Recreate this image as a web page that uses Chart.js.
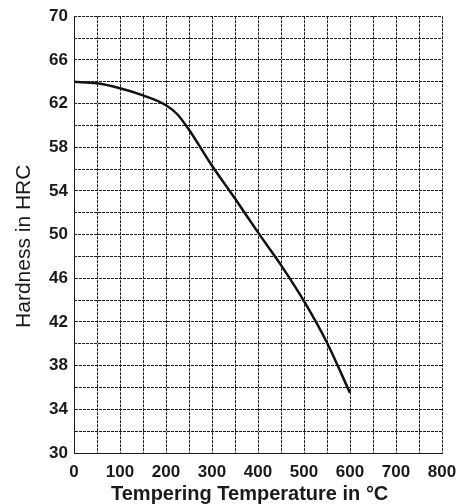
<!DOCTYPE html>
<html>
<head>
<meta charset="utf-8">
<script src="https://cdn.jsdelivr.net/npm/chart.js@4"></script>
<style>
  html,body{margin:0;padding:0;background:#fff;}
  #wrap{width:461px;height:504px;position:relative;}
</style>
</head>
<body>
<div id="wrap"><canvas id="c" width="461" height="504"></canvas></div>
<script>
const temperatures = [0, 50, 100, 150, 200, 225, 250, 300, 350, 400, 450, 500, 550, 600];
const hardness = [64, 63.85, 63.4, 62.75, 61.85, 61.0, 59.6, 56.3, 53.3, 50.2, 47.2, 43.9, 40.1, 35.5];
const xTickLabels = [0, 100, 200, 300, 400, 500, 600, 700, 800];
const yTickLabels = [30, 34, 38, 42, 46, 50, 54, 58, 62, 66, 70];
const solidHLines = [64, 58, 54, 46, 42, 38, 36, 34, 32];

const points = temperatures.map((t, i) => ({x: t, y: hardness[i]}));
const gridDark = '#1e1e1e';
const NB = '\u00a0';

new Chart(document.getElementById('c'), {
  type: 'line',
  data: {
    datasets: [{
      data: points,
      borderColor: '#111',
      borderWidth: 2.5,
      pointRadius: 0,
      fill: false,
      cubicInterpolationMode: 'monotone',
      yAxisID: 'y'
    }]
  },
  options: {
    responsive: false,
    animation: false,
    layout: {padding: {left: 0, right: 19, top: 13, bottom: 0}},
    plugins: {legend: {display: false}, tooltip: {enabled: false}},
    scales: {
      x: {
        type: 'linear', min: 0, max: 800,
        afterFit: s => { s.height = 51; s.paddingRight = 0; s.paddingLeft = 0; },
        ticks: {
          stepSize: 50, autoSkip: false, maxRotation: 0, padding: 9,
          color: '#1a1a1a',
          font: {family: 'Liberation Sans, Arial, sans-serif', size: 17, weight: 'bold'},
          callback: v => xTickLabels.includes(v) ? String(v) : ''
        },
        grid: {color: gridDark, lineWidth: 1, drawTicks: false},
        border: {display: true, color: gridDark, dash: [3, 1]},
        title: {
          display: true, text: 'Tempering Temperature in °C' + NB + NB + NB,
          color: '#1a1a1a', padding: 0,
          font: {family: 'Liberation Sans, Arial, sans-serif', size: 20, weight: 'bold', lineHeight: 1}
        }
      },
      y2: {
        type: 'linear', position: 'left', min: 30, max: 70,
        afterFit: s => { s.width = 0; },
        ticks: {stepSize: 2, display: false},
        grid: {
          drawTicks: false, lineWidth: 1,
          color: ctx => (ctx.tick && !solidHLines.includes(ctx.tick.value)) ? gridDark : 'rgba(0,0,0,0)'
        },
        border: {display: false, dash: [3, 1]}
      },
      y: {
        type: 'linear', position: 'left', min: 30, max: 70,
        afterFit: s => { s.width = 74; },
        ticks: {
          stepSize: 2, autoSkip: false, padding: 6,
          color: '#1a1a1a',
          font: {family: 'Liberation Sans, Arial, sans-serif', size: 17, weight: 'bold'},
          callback: v => yTickLabels.includes(v) ? String(v) : ''
        },
        grid: {
          drawTicks: false, lineWidth: 1,
          color: ctx => (ctx.tick && solidHLines.includes(ctx.tick.value)) ? '#1a1a1a' : 'rgba(0,0,0,0)'
        },
        border: {display: true, color: gridDark, dash: [3, 1]},
        title: {
          display: true, text: 'Hardness in HRC' + NB + NB + NB + NB,
          color: '#1a1a1a', padding: {top: 12, bottom: 0},
          font: {family: 'Liberation Sans, Arial, sans-serif', size: 21, weight: 'normal', lineHeight: 1.2}
        }
      }
    }
  }
});
</script>
</body>
</html>
